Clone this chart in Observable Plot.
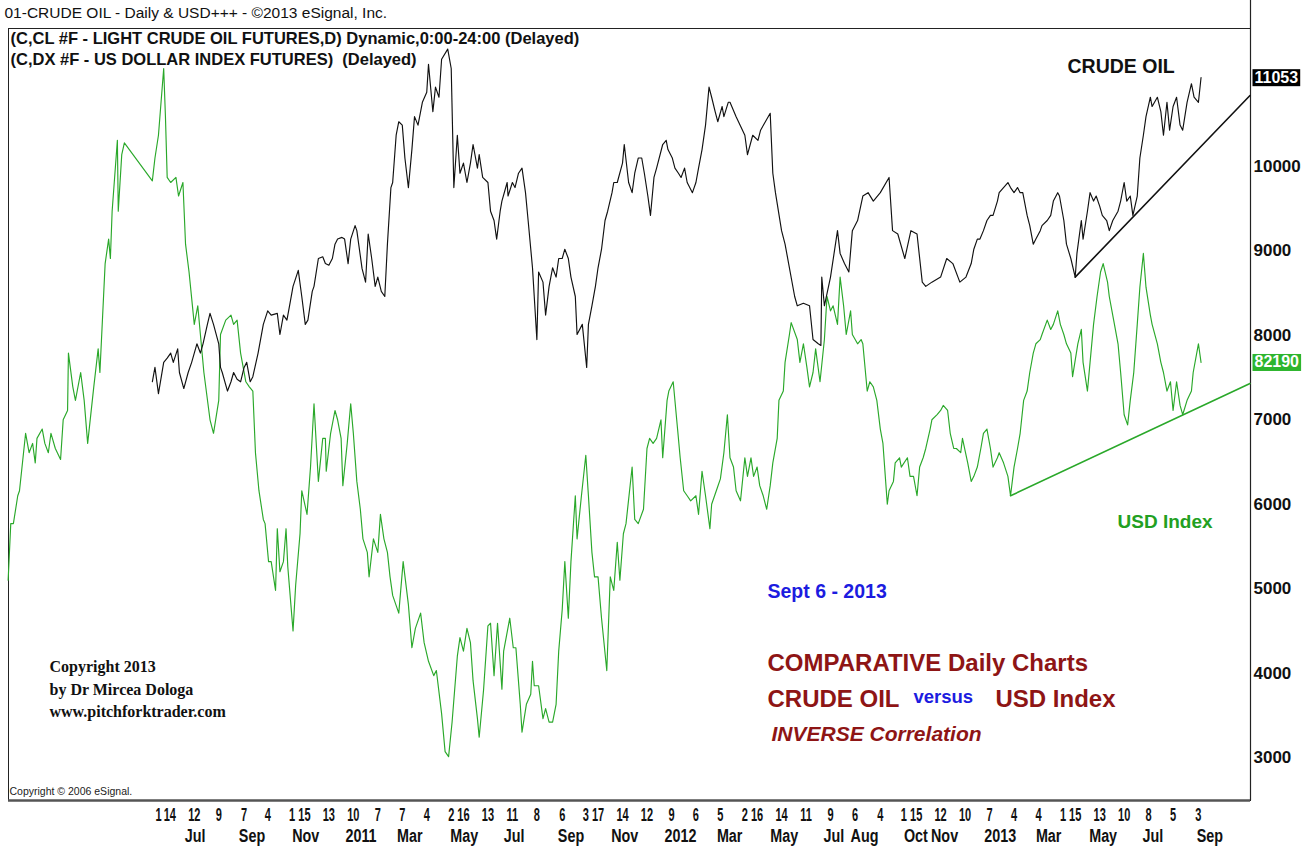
<!DOCTYPE html>
<html><head><meta charset="utf-8">
<script src="https://cdn.jsdelivr.net/npm/d3@7"></script>
<script src="https://cdn.jsdelivr.net/npm/@observablehq/plot@0.6"></script>
<style>html,body{margin:0;padding:0;background:#fff;}</style>
</head><body>
<script>
// Crude oil (CL #F) daily closes, in axis units (price x 100)
const crude = [
["2010-05-25",7450],["2010-05-28",7620],["2010-06-01",7310],["2010-06-07",7680],["2010-06-11",7730],["2010-06-15",7790],["2010-06-18",7680],["2010-06-23",7840],["2010-06-25",7560],["2010-06-30",7370],
["2010-07-05",7560],["2010-07-09",7680],["2010-07-15",7900],["2010-07-19",7790],["2010-07-22",7900],["2010-07-27",8130],["2010-07-30",8260],["2010-08-03",8130],["2010-08-09",7900],["2010-08-11",7620],
["2010-08-13",7560],["2010-08-19",7340],["2010-08-23",7450],["2010-08-26",7560],["2010-08-30",7480],["2010-09-03",7450],["2010-09-07",7620],["2010-09-10",7680],["2010-09-14",7450],["2010-09-17",7510],
["2010-09-23",7790],["2010-09-29",8130],["2010-10-04",8290],["2010-10-08",8240],["2010-10-15",8260],["2010-10-18",8010],["2010-10-22",8240],["2010-10-26",8180],["2010-10-29",8350],["2010-11-02",8580],
["2010-11-08",8770],["2010-11-12",8460],["2010-11-16",8130],["2010-11-19",8180],["2010-11-24",8520],["2010-11-26",8580],["2010-12-01",8910],["2010-12-06",8930],["2010-12-09",8850],["2010-12-13",8830],
["2010-12-17",8910],["2010-12-20",9080],["2010-12-23",9140],["2010-12-28",9160],["2010-12-31",9140],["2011-01-04",8850],["2011-01-07",9140],["2011-01-12",9300],["2011-01-14",9240],["2011-01-20",8790],
["2011-01-24",8630],["2011-01-27",9200],["2011-01-31",8910],["2011-02-04",8580],["2011-02-07",8690],["2011-02-11",8520],["2011-02-15",8460],["2011-02-18",9080],["2011-02-22",9750],["2011-02-24",9810],
["2011-02-28",10370],["2011-03-03",10530],["2011-03-07",10490],["2011-03-10",10100],["2011-03-14",9750],["2011-03-18",10200],["2011-03-21",10590],["2011-03-25",10490],["2011-03-30",10760],["2011-04-04",10880],
["2011-04-06",11210],["2011-04-11",10650],["2011-04-14",10940],["2011-04-18",10820],["2011-04-21",11270],["2011-04-28",11390],["2011-05-02",11160],["2011-05-05",9750],["2011-05-09",10370],["2011-05-12",9920],
["2011-05-16",10040],["2011-05-20",9810],["2011-05-24",10040],["2011-05-27",10260],["2011-06-01",9980],["2011-06-03",10140],["2011-06-07",9870],["2011-06-13",9810],["2011-06-16",9470],["2011-06-20",9360],
["2011-06-23",9140],["2011-06-27",9470],["2011-06-29",9590],["2011-07-05",9810],["2011-07-06",9650],["2011-07-11",9810],["2011-07-14",9750],["2011-07-18",9920],["2011-07-22",9980],["2011-07-26",9690],
["2011-07-29",9360],["2011-08-03",8800],["2011-08-08",7950],["2011-08-10",8750],["2011-08-15",8630],["2011-08-18",8240],["2011-08-22",8580],["2011-08-26",8800],["2011-08-30",8690],["2011-09-02",8910],
["2011-09-06",8910],["2011-09-09",9020],["2011-09-13",8910],["2011-09-16",8690],["2011-09-21",8460],["2011-09-23",8010],["2011-09-29",8130],["2011-10-04",7620],["2011-10-06",8130],["2011-10-10",8350],
["2011-10-14",8580],["2011-10-17",8800],["2011-10-21",9020],["2011-10-25",9360],["2011-10-28",9470],["2011-11-02",9690],["2011-11-04",9810],["2011-11-08",9810],["2011-11-14",10040],["2011-11-16",10260],
["2011-11-21",9810],["2011-11-25",9690],["2011-11-28",9920],["2011-12-02",10100],["2011-12-06",10100],["2011-12-09",9920],["2011-12-13",9650],["2011-12-16",9420],["2011-12-20",9870],["2011-12-23",9980],
["2011-12-30",10260],["2012-01-03",10310],["2012-01-05",10200],["2012-01-10",10100],["2012-01-13",9980],["2012-01-17",9920],["2012-01-20",9870],["2012-01-24",9980],["2012-01-27",9810],["2012-02-02",9690],
["2012-02-06",9810],["2012-02-09",9980],["2012-02-13",10200],["2012-02-17",10490],["2012-02-21",10940],["2012-02-24",10820],["2012-02-28",10650],["2012-03-02",10530],["2012-03-07",10710],["2012-03-09",10590],
["2012-03-14",10760],["2012-03-16",10760],["2012-03-23",10590],["2012-04-02",10370],["2012-04-05",10140],["2012-04-11",10370],["2012-04-17",10310],["2012-04-20",10430],["2012-05-01",10630],["2012-05-04",9920],
["2012-05-07",9690],["2012-05-14",9240],["2012-05-18",9080],["2012-05-29",8460],["2012-06-01",8350],["2012-06-08",8380],["2012-06-15",8350],["2012-06-19",7950],["2012-06-25",7900],["2012-06-28",7880],
["2012-06-29",8690],["2012-07-02",8350],["2012-07-09",8690],["2012-07-17",9240],["2012-07-20",8970],["2012-07-25",8850],["2012-07-30",8750],["2012-08-03",9240],["2012-08-09",9360],["2012-08-15",9650],
["2012-08-21",9690],["2012-08-27",9590],["2012-09-04",9690],["2012-09-14",9870],["2012-09-18",9240],["2012-09-24",9200],["2012-10-02",8910],["2012-10-09",9240],["2012-10-16",9200],["2012-10-22",8630],
["2012-10-26",8580],["2012-11-02",8630],["2012-11-12",8690],["2012-11-19",8910],["2012-11-26",8850],["2012-12-04",8630],["2012-12-11",8690],["2012-12-17",8850],["2012-12-20",9020],["2012-12-24",9140],
["2012-12-27",9140],["2012-12-31",9240],["2013-01-04",9360],["2013-01-08",9420],["2013-01-11",9420],["2013-01-16",9590],["2013-01-18",9690],["2013-01-23",9750],["2013-01-28",9810],["2013-01-31",9750],
["2013-02-04",9690],["2013-02-08",9750],["2013-02-11",9690],["2013-02-14",9690],["2013-02-19",9420],["2013-02-22",9300],["2013-02-26",9080],["2013-03-01",9140],["2013-03-06",9240],["2013-03-08",9300],
["2013-03-14",9360],["2013-03-18",9420],["2013-03-21",9590],["2013-03-26",9690],["2013-03-28",9650],["2013-04-02",9360],["2013-04-05",9080],["2013-04-10",8910],["2013-04-15",8690],["2013-04-17",8970],
["2013-04-22",9360],["2013-04-24",9140],["2013-04-29",9470],["2013-05-02",9690],["2013-05-06",9590],["2013-05-09",9650],["2013-05-13",9530],["2013-05-16",9420],["2013-05-21",9360],["2013-05-24",9240],
["2013-05-28",9360],["2013-06-03",9470],["2013-06-06",9590],["2013-06-10",9810],["2013-06-13",9590],["2013-06-17",9650],["2013-06-20",9420],["2013-06-25",9650],["2013-06-28",10100],["2013-07-02",10370],
["2013-07-05",10590],["2013-07-10",10820],["2013-07-12",10710],["2013-07-18",10820],["2013-07-22",10650],["2013-07-25",10370],["2013-07-29",10760],["2013-08-01",10430],["2013-08-05",10710],["2013-08-09",10820],
["2013-08-13",10490],["2013-08-16",10430],["2013-08-21",10760],["2013-08-26",10980],["2013-08-29",10820],["2013-09-03",10760],["2013-09-06",11053]
];

// US Dollar Index (DX #F) overlay, in the same axis units
const usd = [
["2009-12-11",5100],["2009-12-14",5770],["2009-12-17",5770],["2009-12-22",6100],["2009-12-24",6160],["2009-12-31",6840],["2010-01-04",6610],["2010-01-08",6720],["2010-01-11",6490],["2010-01-13",6780],
["2010-01-19",6890],["2010-01-22",6720],["2010-01-26",6610],["2010-01-29",6840],["2010-02-03",6660],["2010-02-09",6530],["2010-02-12",7000],["2010-02-17",7110],["2010-02-18",7790],["2010-02-23",7390],
["2010-02-26",7230],["2010-03-04",7560],["2010-03-08",7230],["2010-03-12",6720],["2010-03-19",7390],["2010-03-24",7840],["2010-03-26",7560],["2010-04-01",8850],["2010-04-05",9140],["2010-04-07",8910],
["2010-04-09",9470],["2010-04-15",10310],["2010-04-16",9470],["2010-04-20",10140],["2010-04-23",10280],["2010-05-25",9830],["2010-05-28",10100],["2010-06-01",10370],["2010-06-07",11160],["2010-06-09",10590],
["2010-06-11",9870],["2010-06-15",9810],["2010-06-21",9870],["2010-06-24",9650],["2010-06-29",9810],["2010-07-02",9080],["2010-07-06",8750],["2010-07-12",8130],["2010-07-16",8350],["2010-07-19",8010],
["2010-07-23",7560],["2010-07-30",7000],["2010-08-03",6840],["2010-08-09",7230],["2010-08-11",8010],["2010-08-17",8180],["2010-08-23",8240],["2010-08-26",8130],["2010-08-30",8180],["2010-09-03",7790],
["2010-09-09",7450],["2010-09-13",7390],["2010-09-17",7340],["2010-09-20",6610],["2010-09-24",6160],["2010-09-29",5820],["2010-10-01",5770],["2010-10-05",5320],["2010-10-08",5320],["2010-10-13",4980],
["2010-10-15",5710],["2010-10-18",5200],["2010-10-22",5320],["2010-10-25",5710],["2010-10-27",5260],["2010-11-02",4500],["2010-11-05",5040],["2010-11-10",5650],["2010-11-12",6160],["2010-11-18",5880],
["2010-11-22",6440],["2010-11-26",7190],["2010-12-01",6270],["2010-12-06",6780],["2010-12-09",6780],["2010-12-10",6390],["2010-12-15",6840],["2010-12-20",7110],["2010-12-23",7000],["2010-12-27",6780],
["2010-12-29",6220],["2011-01-03",6720],["2011-01-07",7190],["2011-01-10",6840],["2011-01-14",6270],["2011-01-18",5940],["2011-01-21",5590],["2011-01-26",5430],["2011-01-28",5140],["2011-02-02",5590],
["2011-02-07",5430],["2011-02-10",5880],["2011-02-14",5590],["2011-02-18",5430],["2011-02-21",5140],["2011-02-24",4920],["2011-03-03",4710],["2011-03-08",5320],["2011-03-14",4810],["2011-03-18",4300],
["2011-03-22",4530],["2011-03-28",4710],["2011-04-01",4360],["2011-04-06",4140],["2011-04-12",3970],["2011-04-15",4030],["2011-04-21",3520],["2011-04-25",3070],["2011-04-29",3010],["2011-05-03",3420],
["2011-05-09",4200],["2011-05-12",4420],["2011-05-16",4260],["2011-05-20",4530],["2011-05-24",4360],["2011-05-27",3910],["2011-06-01",3460],["2011-06-03",3240],["2011-06-08",3800],["2011-06-13",4560],
["2011-06-16",4590],["2011-06-20",3970],["2011-06-24",4590],["2011-06-29",3810],["2011-07-01",4260],["2011-07-08",4650],["2011-07-12",4300],["2011-07-15",4300],["2011-07-20",3630],["2011-07-22",3300],
["2011-07-27",3630],["2011-08-01",3750],["2011-08-03",4140],["2011-08-05",3850],["2011-08-10",3850],["2011-08-15",3460],["2011-08-18",3580],["2011-08-22",3420],["2011-08-26",3420],["2011-08-30",3630],
["2011-09-02",4260],["2011-09-06",4750],["2011-09-09",5320],["2011-09-13",4650],["2011-09-16",5320],["2011-09-21",6100],["2011-09-23",5590],["2011-09-28",6100],["2011-10-03",6580],["2011-10-06",6100],
["2011-10-10",5430],["2011-10-13",5140],["2011-10-17",5140],["2011-10-21",4650],["2011-10-27",4030],["2011-10-31",5140],["2011-11-04",4980],["2011-11-08",5550],["2011-11-11",5100],["2011-11-15",5650],
["2011-11-18",5770],["2011-11-25",6440],["2011-11-28",5820],["2011-12-02",5770],["2011-12-08",5940],["2011-12-12",6660],["2011-12-15",6780],["2011-12-19",6720],["2011-12-23",6780],["2011-12-28",7000],
["2011-12-30",6550],["2012-01-04",7230],["2012-01-06",7340],["2012-01-11",7450],["2012-01-16",6890],["2012-01-19",6550],["2012-01-23",6160],["2012-01-27",6100],["2012-01-31",6040],["2012-02-06",6100],
["2012-02-09",5880],["2012-02-13",6390],["2012-02-17",6100],["2012-02-22",5710],["2012-02-24",6000],["2012-03-02",6210],["2012-03-05",6300],["2012-03-09",6610],["2012-03-13",7060],["2012-03-16",6550],
["2012-03-20",6440],["2012-03-23",6160],["2012-03-28",6040],["2012-04-02",6550],["2012-04-05",6330],["2012-04-09",6550],["2012-04-12",6330],["2012-04-16",6440],["2012-04-19",6220],["2012-04-23",6100],
["2012-04-27",5940],["2012-05-01",6220],["2012-05-04",6490],["2012-05-09",6780],["2012-05-11",7230],["2012-05-16",7340],["2012-05-18",7680],["2012-05-23",8010],["2012-05-25",8150],["2012-06-01",7950],
["2012-06-04",7680],["2012-06-08",7900],["2012-06-12",7620],["2012-06-15",7390],["2012-06-19",7560],["2012-06-22",7840],["2012-06-27",7450],["2012-07-02",7950],["2012-07-05",8460],["2012-07-09",8290],
["2012-07-12",8350],["2012-07-17",8130],["2012-07-20",8690],["2012-07-24",8350],["2012-07-27",8010],["2012-08-01",8290],["2012-08-03",8010],["2012-08-09",7900],["2012-08-13",7950],["2012-08-15",7900],
["2012-08-20",7340],["2012-08-23",7450],["2012-08-27",7390],["2012-08-31",7230],["2012-09-04",6890],["2012-09-07",6720],["2012-09-12",6000],["2012-09-14",6160],["2012-09-19",6270],["2012-09-21",6490],
["2012-09-26",6550],["2012-09-28",6440],["2012-10-05",6550],["2012-10-08",6330],["2012-10-12",6330],["2012-10-16",6100],["2012-10-19",6440],["2012-10-23",6550],["2012-10-26",6660],["2012-10-31",6890],
["2012-11-02",7000],["2012-11-08",7060],["2012-11-12",7110],["2012-11-15",7170],["2012-11-20",7110],["2012-11-23",6840],["2012-11-27",6660],["2012-11-30",6660],["2012-12-05",6610],["2012-12-07",6780],
["2012-12-13",6490],["2012-12-17",6270],["2012-12-20",6330],["2012-12-24",6440],["2012-12-28",6660],["2012-12-31",6840],["2013-01-04",6890],["2013-01-08",6660],["2013-01-11",6440],["2013-01-16",6550],
["2013-01-18",6610],["2013-01-23",6490],["2013-01-28",6330],["2013-01-31",6100],["2013-02-04",6440],["2013-02-08",6660],["2013-02-11",6840],["2013-02-15",7230],["2013-02-19",7340],["2013-02-22",7560],
["2013-02-26",7790],["2013-03-01",7900],["2013-03-06",7950],["2013-03-08",8010],["2013-03-14",8180],["2013-03-18",8070],["2013-03-21",8130],["2013-03-26",8290],["2013-03-29",8130],["2013-04-02",8010],
["2013-04-05",7900],["2013-04-10",7790],["2013-04-12",7510],["2013-04-18",7900],["2013-04-22",8070],["2013-04-24",7680],["2013-04-29",7340],["2013-05-02",7680],["2013-05-06",8130],["2013-05-10",8460],
["2013-05-14",8750],["2013-05-17",8850],["2013-05-22",8630],["2013-05-24",8460],["2013-05-29",8180],["2013-06-03",7900],["2013-06-06",7560],["2013-06-10",7060],["2013-06-14",6940],["2013-06-17",7230],
["2013-06-21",7560],["2013-06-25",8130],["2013-06-28",8570],["2013-07-02",8970],["2013-07-05",8570],["2013-07-10",8240],["2013-07-12",8130],["2013-07-18",7900],["2013-07-22",7680],["2013-07-25",7560],
["2013-07-29",7340],["2013-08-02",7450],["2013-08-05",7110],["2013-08-09",7450],["2013-08-13",7170],["2013-08-16",7060],["2013-08-21",7230],["2013-08-26",7340],["2013-08-28",7560],["2013-09-03",7900],
["2013-09-06",7680]
];

// Trend lines (start at a swing low, run to the right edge)
const crudeTrend = [["2013-04-15",8690],["2013-11-01",10840]];
const usdTrend = [["2013-01-31",6100],["2013-11-01",7430]];

// Last-value labels
const crudeLastLabel = "11053";
const usdLastLabel = "82190";

// Axis ticks
const yTicks = [3000,4000,5000,6000,7000,8000,9000,10000];
const dayTickDates = ["2010-06-01","2010-06-14","2010-07-12","2010-08-09","2010-09-07","2010-10-04","2010-11-01","2010-11-15","2010-12-13",
"2011-01-10","2011-02-07","2011-03-07","2011-04-04","2011-05-02","2011-05-16","2011-06-13","2011-07-11","2011-08-08","2011-09-06","2011-10-03","2011-10-17","2011-11-14","2011-12-12",
"2012-01-09","2012-02-06","2012-03-05","2012-04-02","2012-04-16","2012-05-14","2012-06-11","2012-07-09","2012-08-06","2012-09-04","2012-10-01","2012-10-15","2012-11-12","2012-12-10",
"2013-01-07","2013-02-04","2013-03-04","2013-04-01","2013-04-15","2013-05-13","2013-06-10","2013-07-08","2013-08-05","2013-09-03"];
const monthTickDates = ["2010-07-01","2010-09-01","2010-11-01","2011-01-01","2011-03-01","2011-05-01","2011-07-01","2011-09-01","2011-11-01","2012-01-01","2012-03-01","2012-05-01","2012-07-01","2012-08-01","2012-10-01","2012-11-01","2013-01-01","2013-03-01","2013-05-01","2013-07-01","2013-09-01"];
const monthTickLabels = ["Jul","Sep","Nov","2011","Mar","May","Jul","Sep","Nov","2012","Mar","May","Jul","Aug","Oct","Nov","2013","Mar","May","Jul","Sep"];

const parse = s => new Date(s + "T00:00:00Z");
const toRows = arr => arr.map(([d, v]) => ({date: parse(d), value: v}));
const crudeRows = toRows(crude), usdRows = toRows(usd);
const xDomain = [new Date("2009-12-11T10:00:00Z"), new Date("2013-11-01T14:00:00Z")];
const yDomain = [2491, 11634];
const monthMap = new Map(monthTickDates.map((d, i) => [+parse(d), monthTickLabels[i]]));

const GREEN = "#2aa82a", TEXTGREEN = "#22a022", DARKRED = "#8e1515", BLUE = "#1c1ce0";
const SERIF = "Liberation Serif, Times New Roman, serif";
const notes = [
  {text: "01-CRUDE OIL - Daily & USD+++ - \u00a92013 eSignal, Inc.", dx: -4, dy: -15, fontSize: 15.5, fontWeight: "normal", fill: "#111"},
  {text: "(C,CL #F - LIGHT CRUDE OIL FUTURES,D) Dynamic,0:00-24:00 (Delayed)", dx: 2, dy: 10, fontSize: 16.5, fontWeight: "bold", fill: "#111"},
  {text: "(C,DX #F - US DOLLAR INDEX FUTURES)\u00a0\u00a0(Delayed)", dx: 2, dy: 31, fontSize: 16.5, fontWeight: "bold", fill: "#111"},
  {text: "CRUDE OIL", dx: 1059, dy: 38, fontSize: 19.5, fontWeight: "bold", fill: "#111"},
  {text: "USD Index", dx: 1109, dy: 493, fontSize: 19, fontWeight: "bold", fill: TEXTGREEN},
  {text: "Sept 6 - 2013", dx: 759, dy: 563, fontSize: 19.5, fontWeight: "bold", fill: BLUE},
  {text: "COMPARATIVE Daily Charts", dx: 759, dy: 635, fontSize: 24, fontWeight: "bold", fill: DARKRED},
  {text: "CRUDE OIL", dx: 759, dy: 671, fontSize: 24, fontWeight: "bold", fill: DARKRED},
  {text: "versus", dx: 905, dy: 669, fontSize: 18.5, fontWeight: "bold", fill: BLUE},
  {text: "USD Index", dx: 987, dy: 671, fontSize: 24, fontWeight: "bold", fill: DARKRED},
  {text: "INVERSE Correlation", dx: 763, dy: 706, fontSize: 21, fontWeight: "bold", fontStyle: "italic", fill: DARKRED},
  {text: "Copyright 2013", dx: 41, dy: 638, fontSize: 16, fontWeight: "bold", fill: "#111", fontFamily: SERIF},
  {text: "by Dr Mircea Dologa", dx: 41, dy: 661, fontSize: 16, fontWeight: "bold", fill: "#111", fontFamily: SERIF},
  {text: "www.pitchforktrader.com", dx: 41, dy: 683, fontSize: 16, fontWeight: "bold", fill: "#111", fontFamily: SERIF},
  {text: "Copyright \u00a9 2006 eSignal.", dx: 1, dy: 763, fontSize: 10.5, fontWeight: "normal", fill: "#222"}
];

const chart = Plot.plot({
  width: 1308, height: 847,
  marginLeft: 8, marginRight: 58, marginTop: 28, marginBottom: 47,
  x: {type: "utc", domain: xDomain, axis: null},
  y: {domain: yDomain, axis: null},
  style: {fontFamily: "Liberation Sans, Arial, sans-serif", background: "#fff", overflow: "visible"},
  marks: [
    Plot.frame({stroke: "#222", strokeWidth: 1}),
    Plot.ruleX([xDomain[1]], {insetTop: -28, stroke: "#222", strokeWidth: 1.2}),
    Plot.ruleY([yDomain[0]], {stroke: "#555", strokeWidth: 2.5}),
    Plot.axisY({anchor: "right", label: null, ticks: yTicks, tickSize: 0, tickPadding: 3, tickFormat: d => String(d), fontSize: 17, fontWeight: "bold", fill: "#111"}),
    Plot.axisX({anchor: "bottom", label: null, ticks: dayTickDates.map(parse), tickSize: 0, tickPadding: 8, tickFormat: d => String(d.getUTCDate()), fontSize: 17.5, fontWeight: "bold", fill: "#111"}),
    Plot.axisX({anchor: "bottom", label: null, ticks: monthTickDates.map(parse), tickSize: 0, tickPadding: 29, tickFormat: d => monthMap.get(+d), textAnchor: "start", fontSize: 17.5, fontWeight: "bold", fill: "#111"}),
    Plot.line(toRows(usdTrend), {x: "date", y: "value", stroke: GREEN, strokeWidth: 1.6}),
    Plot.line(toRows(crudeTrend), {x: "date", y: "value", stroke: "#111", strokeWidth: 1.6}),
    Plot.line(usdRows, {x: "date", y: "value", stroke: GREEN, strokeWidth: 1.15}),
    Plot.line(crudeRows, {x: "date", y: "value", stroke: "#111", strokeWidth: 1.15}),
    Plot.text([crudeRows[crudeRows.length - 1]], {y: "value", frameAnchor: "right", text: () => crudeLastLabel, dx: 4, textAnchor: "start", fill: "#fff", fontSize: 16, fontWeight: "bold"}),
    Plot.text([usdRows[usdRows.length - 1]], {y: "value", frameAnchor: "right", text: () => usdLastLabel, dx: 4, textAnchor: "start", fill: "#fff", fontSize: 16, fontWeight: "bold"}),
    ...notes.map(n => Plot.text([n.text], {frameAnchor: "top-left", textAnchor: "start", lineAnchor: "middle", dx: n.dx, dy: n.dy, fontSize: n.fontSize, fontWeight: n.fontWeight, fontStyle: n.fontStyle || "normal", fill: n.fill, fontFamily: n.fontFamily}))
  ]
});
document.body.appendChild(chart);

// Condense the bottom tick labels horizontally, as in the eSignal rendering
const dayLabelSet = new Set(dayTickDates.map(d => String(parse(d).getUTCDate())));
const monthLabelSet = new Set(monthTickLabels);
function condenseText(t, s) {
  const tr = t.getAttribute("transform");
  if (tr) t.setAttribute("transform", tr + ` scale(${s},1)`);
  else {
    const x = +t.getAttribute("x") || 0;
    t.setAttribute("transform", `translate(${x},0) scale(${s},1) translate(${-x},0)`);
  }
}
for (const g of Array.from(chart.querySelectorAll("g"))) {
  const texts = Array.from(g.children).filter(c => c.tagName === "text");
  if (texts.length === dayTickDates.length && texts.every(t => dayLabelSet.has(t.textContent))) texts.forEach(t => condenseText(t, 0.63));
  else if (texts.length === monthTickLabels.length && texts.every(t => monthLabelSet.has(t.textContent))) texts.forEach(t => condenseText(t, 0.82));
}

// Background boxes behind the last-value labels
const boxFill = {[crudeLastLabel]: "#000", [usdLastLabel]: "#2db52d"};
for (const t of Array.from(chart.querySelectorAll("text"))) {
  const f = boxFill[t.textContent];
  if (!f) continue;
  const b = t.getBBox();
  const r = document.createElementNS("http://www.w3.org/2000/svg", "rect");
  r.setAttribute("x", b.x - 2); r.setAttribute("y", b.y + 0.5);
  r.setAttribute("width", b.width + 4); r.setAttribute("height", b.height);
  r.setAttribute("fill", f);
  const tr = t.getAttribute("transform");
  if (tr) r.setAttribute("transform", tr);
  t.parentNode.insertBefore(r, t);
}
</script>
</body></html>
